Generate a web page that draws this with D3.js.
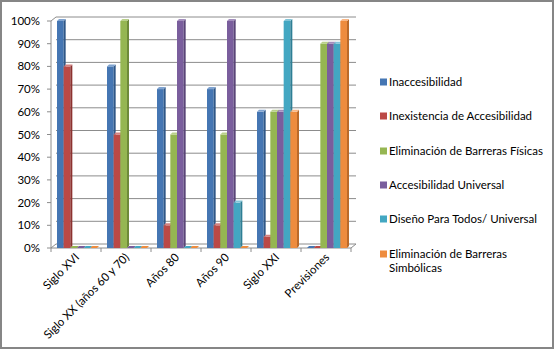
<!DOCTYPE html>
<html><head><meta charset="utf-8">
<script src="https://cdn.jsdelivr.net/npm/d3@7"></script>
<style>body{margin:0;background:#fff}svg{display:block}</style>
</head><body>
<svg id="c" width="555" height="350"></svg>
<script>
const categories = ["Siglo XVI","Siglo XX (años 60 y 70)","Años 80","Años 90","Siglo XXI","Previsiones"];
const seriesNames = ["Inaccesibilidad","Inexistencia de Accesibilidad","Eliminación de Barreras Físicas","Accesibilidad Universal","Diseño Para Todos/ Universal","Eliminación de Barreras Simbólicas"];
const inaccesibilidad = [1.00,0.80,0.70,0.70,0.60,0.00];
const inexistencia    = [0.80,0.50,0.10,0.10,0.05,0.00];
const elimFisicas     = [0.00,1.00,0.50,0.50,0.60,0.90];
const accUniversal    = [0.00,0.00,1.00,1.00,0.60,0.90];
const disenoTodos     = [0.00,0.00,0.00,0.20,1.00,0.90];
const elimSimbolicas  = [0.00,0.00,0.00,0.00,0.60,1.00];
const yTicks = [0,0.1,0.2,0.3,0.4,0.5,0.6,0.7,0.8,0.9,1.0];
const seriesValues = [inaccesibilidad,inexistencia,elimFisicas,accUniversal,disenoTodos,elimSimbolicas];
const colors = ["#4576B3","#BB4946","#95B652","#7A5E9D","#43A7C2","#EE8C3E"];
const sideColors = ["#2F5787","#8C3230","#6E8A3A","#5A4577","#2E7F95","#BA6A2A"];
const topColors = ["#7FA3D0","#D58280","#B9D08A","#A38EBD","#83C5D8","#F9B887"];

const svg = d3.select("#c");
const font = "Lato, 'Open Sans', sans-serif";
svg.append("rect").attr("x",1).attr("y",1).attr("width",552).attr("height",347)
  .attr("fill","#fff").attr("stroke","#868686").attr("stroke-width",2);

const y = d3.scaleLinear().domain([0,1]).range([248,21]);
const x = d3.scaleBand().domain(categories).range([51,351]).padding(0);
const xs = d3.scaleBand().domain(d3.range(6)).range([6,46]).padding(0);
const DX = 5, DY = 4;
const bdx = 2, bdy = 2;
const grid = "#8C8C8C";

const g = svg.append("g");
yTicks.forEach(t=>{
  g.append("line").attr("x1",51+DX).attr("x2",351+DX).attr("y1",y(t)-DY).attr("y2",y(t)-DY)
   .attr("stroke",grid).attr("stroke-width",1);
});
g.append("line").attr("x1",51).attr("x2",51).attr("y1",y(1)).attr("y2",y(0)).attr("stroke",grid);
g.append("line").attr("x1",51).attr("x2",51+DX).attr("y1",y(1)).attr("y2",y(1)-DY).attr("stroke",grid);
g.append("line").attr("x1",51).attr("x2",51+DX).attr("y1",y(0)).attr("y2",y(0)-DY).attr("stroke",grid);
g.append("line").attr("x1",51).attr("x2",351).attr("y1",y(0)).attr("y2",y(0)).attr("stroke",grid);
g.append("line").attr("x1",351).attr("x2",351+DX).attr("y1",y(0)).attr("y2",y(0)-DY).attr("stroke",grid);
yTicks.forEach(t=>{
  g.append("line").attr("x1",47).attr("x2",51).attr("y1",y(t)).attr("y2",y(t)).attr("stroke",grid);
  g.append("text").attr("x",40).attr("y",y(t)).attr("dy","0.35em").attr("text-anchor","end")
   .attr("font-family",font).attr("font-size",11.5).attr("fill","#000").text(d3.format(".0%")(t));
});
d3.range(7).forEach(i=>{
  const xx = 51+50*i;
  g.append("line").attr("x1",xx).attr("x2",xx).attr("y1",y(0)).attr("y2",y(0)+4).attr("stroke",grid);
});
const bars = svg.append("g");
categories.forEach((c,ci)=>{
  seriesValues.forEach((vals,si)=>{
    const v = vals[ci];
    const x0 = x(c)+xs(si), w = xs.bandwidth(), yt = y(v), yb = y(0);
    if (v>0) {
      bars.append("rect").attr("x",x0).attr("y",yt).attr("width",w).attr("height",yb-yt).attr("fill",colors[si]);
      bars.append("path").attr("d",`M${x0+w},${yt}L${x0+w+bdx},${yt-bdy}L${x0+w+bdx},${yb-bdy}L${x0+w},${yb}Z`).attr("fill",sideColors[si]);
    }
    bars.append("path").attr("d",`M${x0},${yt}L${x0+w},${yt}L${x0+w+bdx},${yt-bdy}L${x0+bdx},${yt-bdy}Z`).attr("fill",v>0?topColors[si]:colors[si]);
  });
});
categories.forEach(c=>{
  const cx = x(c)+x.bandwidth()/2+4;
  svg.append("text").attr("transform",`translate(${cx},${258}) rotate(-45)`)
   .attr("text-anchor","end").attr("font-family",font).attr("font-size",11.5).attr("fill","#000").text(c);
});
const leg = svg.append("g");
const legY = [82,116,151,185,219,254];
seriesNames.forEach((n,i)=>{
  leg.append("rect").attr("x",380).attr("y",legY[i]-3.5).attr("width",7).attr("height",7).attr("fill",colors[i]);
  if (i===5) {
    const t = leg.append("text").attr("x",389).attr("y",legY[i]).attr("dy","0.35em").attr("font-family",font).attr("font-size",11.5).attr("fill","#000");
    t.append("tspan").attr("x",389).text("Eliminación de Barreras");
    t.append("tspan").attr("x",389).attr("dy","1.25em").text("Simbólicas");
  } else {
    leg.append("text").attr("x",389).attr("y",legY[i]).attr("dy","0.35em").attr("font-family",font).attr("font-size",11.5).attr("fill","#000").text(n);
  }
});
</script>
</body></html>
